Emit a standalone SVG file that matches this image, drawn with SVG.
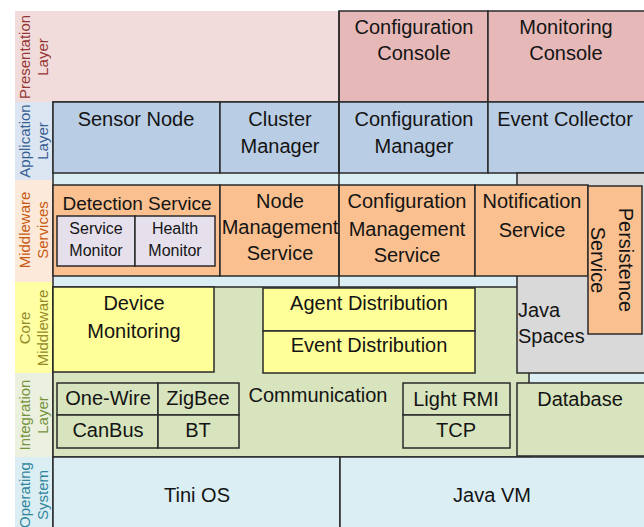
<svg xmlns="http://www.w3.org/2000/svg" width="644" height="527" viewBox="0 0 644 527">
<style>
.b{stroke:#2a2a2a;stroke-width:1.5}
.t{font-family:"Liberation Sans",Arial,sans-serif;font-size:20px;fill:#141414;text-anchor:middle}
.s{font-size:16px}
.l{font-family:"Liberation Sans",Arial,sans-serif;font-size:15px;text-anchor:middle}
.pres{fill:#e6b9b8}.app{fill:#b9cde5}.svc{fill:#fac090}.mon{fill:#e6e0ec}.yel{fill:#ffff99}.oli{fill:#d7e4bd}.gry{fill:#d9d9d9}.os{fill:#dbeef4}
</style>
<rect width="644" height="527" fill="#ffffff"/>
<g id="layer-labels">
<rect x="15" y="11" width="324" height="91" fill="#f2dcdb"/>
<rect x="15" y="102" width="38" height="78" fill="#dce6f2"/>
<rect x="15" y="180" width="38" height="102" fill="#fde9d9"/>
<rect x="15" y="282" width="38" height="91" fill="#ffffa3"/>
<rect x="15" y="373" width="38" height="84" fill="#ebf1de"/>
<rect x="15" y="457" width="38" height="70" fill="#dbeef4"/>
<g class="l" fill="#953735"><text transform="translate(30,57) rotate(-90)">Presentation</text><text transform="translate(48,57) rotate(-90)">Layer</text></g>
<g class="l" fill="#376092"><text transform="translate(30,141) rotate(-90)">Application</text><text transform="translate(48,141) rotate(-90)">Layer</text></g>
<g class="l" fill="#c65911"><text transform="translate(30,230) rotate(-90)">Middleware</text><text transform="translate(48,230) rotate(-90)">Services</text></g>
<g class="l" fill="#948a2a"><text transform="translate(30,328) rotate(-90)">Core</text><text transform="translate(48,328) rotate(-90)">Middleware</text></g>
<g class="l" fill="#76923c"><text transform="translate(30,415) rotate(-90)">Integration</text><text transform="translate(48,415) rotate(-90)">Layer</text></g>
<g class="l" fill="#31859c"><text transform="translate(30,495) rotate(-90)">Operating</text><text transform="translate(48,495) rotate(-90)">System</text></g>
</g>
<rect x="53" y="102" width="593" height="426" class="os b"/>
<g id="configuration-console"><rect x="339" y="11" width="149" height="91" class="pres b"/><text class="t" x="414" y="34">Configuration</text><text class="t" x="414" y="60">Console</text></g>
<g id="monitoring-console"><rect x="488" y="11" width="158" height="91" class="pres b"/><text class="t" x="566" y="34">Monitoring</text><text class="t" x="566" y="60">Console</text></g>
<g id="sensor-node"><rect x="53" y="102" width="167" height="71" class="app b"/><text class="t" x="136" y="126">Sensor Node</text></g>
<g id="cluster-manager"><rect x="220" y="102" width="119" height="71" class="app b"/><text class="t" x="280" y="126">Cluster</text><text class="t" x="280" y="153">Manager</text></g>
<g id="configuration-manager"><rect x="339" y="102" width="149" height="71" class="app b"/><text class="t" x="414" y="126">Configuration</text><text class="t" x="414" y="153">Manager</text></g>
<g id="event-collector"><rect x="488" y="102" width="158" height="71" class="app b"/><text class="t" x="565" y="126">Event Collector</text></g>
<g id="communication"><rect x="53" y="287" width="476" height="170" class="oli b"/><text class="t" x="318" y="402">Communication</text></g>
<g id="java-spaces"><rect x="517" y="173" width="129" height="200" class="gry b"/><text class="t" x="518" y="317" text-anchor="start" style="text-anchor:start">Java</text><text class="t" x="518" y="343" style="text-anchor:start">Spaces</text></g>
<g id="detection-service"><rect x="53" y="185" width="167" height="91" class="svc b"/><text class="t" x="137" y="210" style="font-size:19px">Detection Service</text></g>
<g id="service-monitor"><rect x="57" y="216" width="78" height="50" class="mon b"/><text class="t s" x="96" y="234">Service</text><text class="t s" x="96" y="256">Monitor</text></g>
<g id="health-monitor"><rect x="135" y="216" width="80" height="50" class="mon b"/><text class="t s" x="175" y="234">Health</text><text class="t s" x="175" y="256">Monitor</text></g>
<g id="node-management-service"><rect x="220" y="185" width="119" height="91" class="svc b"/><text class="t" x="280" y="208">Node</text><text class="t" x="280" y="234">Management</text><text class="t" x="280" y="260">Service</text></g>
<g id="configuration-management-service"><rect x="339" y="185" width="136" height="91" class="svc b"/><text class="t" x="407" y="208">Configuration</text><text class="t" x="407" y="236">Management</text><text class="t" x="407" y="262">Service</text></g>
<g id="notification-service"><rect x="475" y="185" width="113" height="91" class="svc b"/><text class="t" x="532" y="208">Notification</text><text class="t" x="532" y="237">Service</text></g>
<g id="persistence-service"><rect x="588" y="186" width="54" height="148" class="svc b"/><text class="t" transform="translate(619,260) rotate(90)">Persistence</text><text class="t" transform="translate(591,260) rotate(90)">Service</text></g>
<g id="device-monitoring"><rect x="53" y="287" width="161" height="85" class="yel b"/><text class="t" x="134" y="310">Device</text><text class="t" x="134" y="338">Monitoring</text></g>
<g id="agent-distribution"><rect x="263" y="288" width="212" height="43" class="yel b"/><text class="t" x="369" y="310">Agent Distribution</text></g>
<g id="event-distribution"><rect x="263" y="331" width="212" height="42" class="yel b"/><text class="t" x="369" y="352">Event Distribution</text></g>
<g id="one-wire"><rect x="57" y="383" width="101" height="32" class="oli b"/><text class="t" x="108" y="405">One-Wire</text></g>
<g id="zigbee"><rect x="158" y="383" width="81" height="32" class="oli b"/><text class="t" x="198" y="405">ZigBee</text></g>
<g id="canbus"><rect x="57" y="415" width="101" height="33" class="oli b"/><text class="t" x="108" y="437">CanBus</text></g>
<g id="bt"><rect x="158" y="415" width="81" height="33" class="oli b"/><text class="t" x="198" y="437">BT</text></g>
<g id="light-rmi"><rect x="403" y="383" width="107" height="32" class="oli b"/><text class="t" x="456" y="406">Light RMI</text></g>
<g id="tcp"><rect x="403" y="415" width="107" height="33" class="oli b"/><text class="t" x="456" y="437">TCP</text></g>
<g id="database"><rect x="517" y="383" width="129" height="73" class="oli b"/><text class="t" x="580" y="406">Database</text></g>
<g id="tini-os"><rect x="53" y="457" width="287" height="71" class="os b"/><text class="t" x="197" y="502">Tini OS</text></g>
<g id="java-vm"><rect x="340" y="457" width="306" height="71" class="os b"/><text class="t" x="492" y="502">Java VM</text></g>
<g id="connectors"><line x1="339" y1="11" x2="339" y2="287" class="b"/></g>
</svg>
